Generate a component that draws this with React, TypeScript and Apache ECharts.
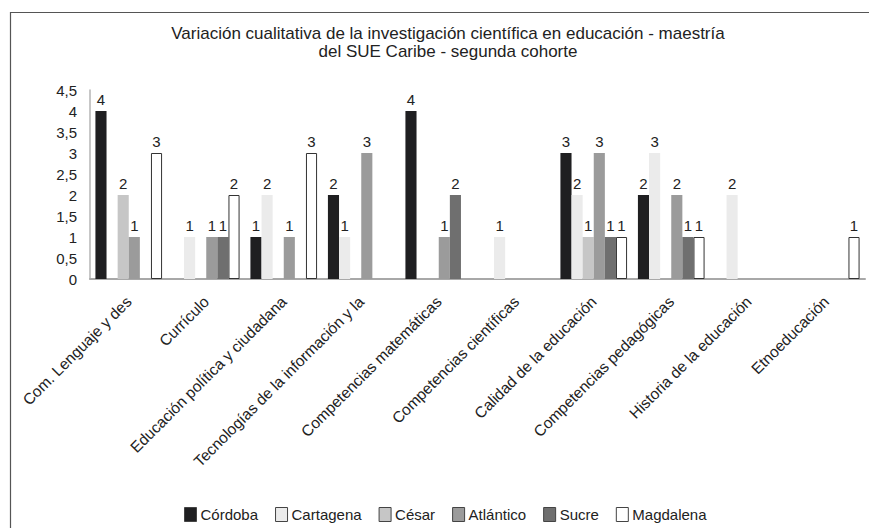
import React, { useEffect, useRef } from "react";
import * as echarts from "echarts";

const titleLines = [
  "Variación cualitativa de la investigación científica en educación - maestría",
  "del SUE Caribe - segunda cohorte",
];

const categories = [
  "Com. Lenguaje y des",
  "Currículo",
  "Educación política y ciudadana",
  "Tecnologías de la información y la",
  "Competencias matemáticas",
  "Competencias científicas",
  "Calidad de la educación",
  "Competencias pedagógicas",
  "Historia de la educación",
  "Etnoeducación",
];

const seriesNames = ["Córdoba", "Cartagena", "César", "Atlántico", "Sucre", "Magdalena"];

const cordoba = [4, 0, 1, 2, 4, 0, 3, 2, 0, 0];
const cartagena = [0, 1, 2, 1, 0, 1, 2, 3, 2, 0];
const cesar = [2, 0, 0, 0, 0, 0, 1, 0, 0, 0];
const atlantico = [1, 1, 1, 3, 1, 0, 3, 2, 0, 0];
const sucre = [0, 1, 0, 0, 2, 0, 1, 1, 0, 0];
const magdalena = [3, 2, 3, 0, 0, 0, 1, 1, 0, 1];

const yTicks = { min: 0, max: 4.5, interval: 0.5 };

const seriesValues = [cordoba, cartagena, cesar, atlantico, sucre, magdalena];
const seriesColors = ["#1f1f21", "#ebebeb", "#c6c6c6", "#9b9b9b", "#6f6f6f", "#ffffff"];

export default function App() {
  const ref = useRef<HTMLDivElement>(null);
  useEffect(() => {
    document.body.style.margin = "0";
    const chart = echarts.init(ref.current!, null, { renderer: "svg" });
    const font = "Liberation Sans, Arial, sans-serif";
    chart.setOption({
      animation: false,
      backgroundColor: "#ffffff",
      textStyle: { fontFamily: font },
      title: {
        text: titleLines.join("\n"),
        left: 443,
        textAlign: "center",
        top: 19,
        textStyle: { fontSize: 17, fontWeight: "normal", color: "#222", lineHeight: 18, fontFamily: font },
      },
      graphic: [
        {
          type: "rect",
          shape: { x: 10.5, y: 12.5, width: 900, height: 600 },
          style: { fill: "none", stroke: "#555", lineWidth: 1.2 },
          silent: true,
          z: 100,
        },
      ],
      legend: {
        left: 179,
        top: 502,
        itemWidth: 12,
        itemHeight: 14,
        itemGap: 17,
        icon: "rect",
        itemStyle: { borderColor: "#444", borderWidth: 1 },
        textStyle: { fontSize: 15, color: "#222", fontFamily: font, padding: [0, 0, 0, -1] },
        data: seriesNames,
      },
      grid: { left: 90, right: 4, top: 90, bottom: 249, containLabel: false },
      xAxis: {
        type: "category",
        data: categories,
        axisLine: { show: true, lineStyle: { color: "#a8a8a8", width: 2 } },
        axisTick: { show: false },
        axisLabel: {
          rotate: 45,
          interval: 0,
          margin: 20,
          fontSize: 15.5,
          color: "#222",
          fontFamily: font,
        },
      },
      yAxis: {
        type: "value",
        min: yTicks.min,
        max: yTicks.max,
        interval: yTicks.interval,
        axisLine: { show: true, lineStyle: { color: "#b5b5b5", width: 1.5 } },
        axisTick: { show: false },
        splitLine: { show: false },
        axisLabel: {
          fontSize: 15,
          color: "#222",
          margin: 13,
          fontFamily: font,
          formatter: (v: number) => String(v).replace(".", ","),
        },
      },
      series: seriesNames.map((name, i) => ({
        name,
        type: "bar",
        barGap: "0%",
        barCategoryGap: "14%",
        data: seriesValues[i].map((v) => (v === 0 ? null : v)),
        itemStyle:
          i === 5
            ? { color: seriesColors[i], borderColor: "#333", borderWidth: 1 }
            : { color: seriesColors[i] },
        label: {
          show: true,
          position: "top",
          distance: 4,
          fontSize: 15,
          color: "#222",
          fontFamily: font,
        },
      })),
    });
    return () => chart.dispose();
  }, []);
  return <div ref={ref} style={{ width: 869, height: 528 }} />;
}
